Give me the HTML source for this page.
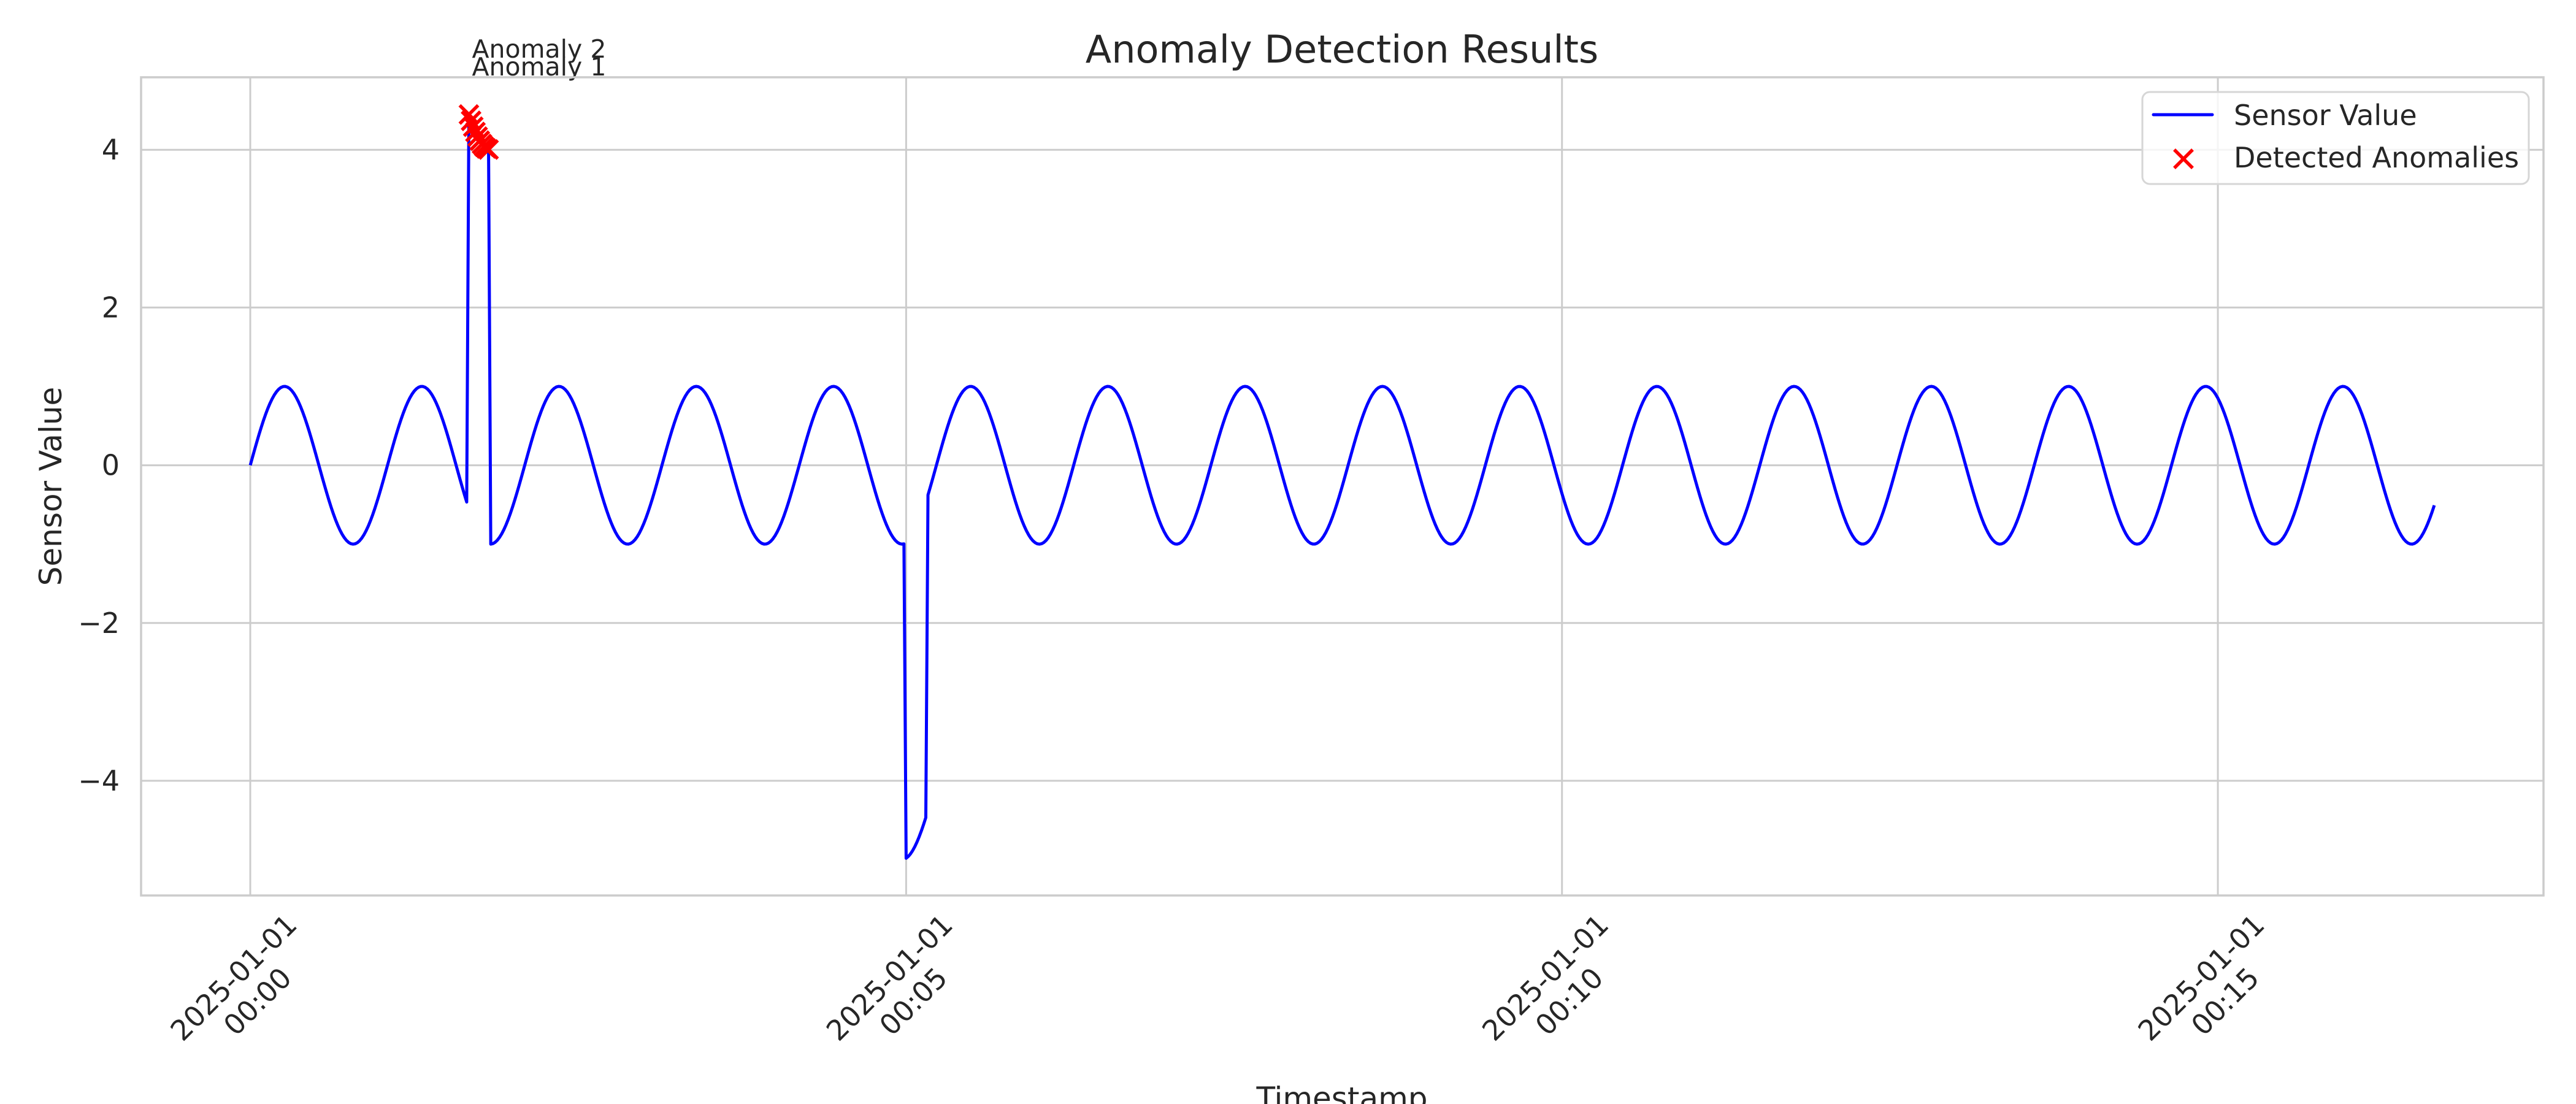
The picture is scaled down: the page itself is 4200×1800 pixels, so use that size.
<!DOCTYPE html>
<html><head><meta charset="utf-8"><style>
html,body{margin:0;padding:0;background:#fff;}
svg{display:block;font-family:"DejaVu Sans","Liberation Sans",sans-serif;}
</style></head><body>
<svg id="chart" width="4200" height="1800" viewBox="0 0 4200 1800" xmlns="http://www.w3.org/2000/svg">
<rect width="4200" height="1800" fill="#fff"/>
<g id="grid"></g>
<g id="series"></g>
<rect x="230" y="126" width="3917" height="1334" fill="none" stroke="#cccccc" stroke-width="3.5"/>
<g id="ticks"></g>
<text x="2188" y="102" font-size="62" text-anchor="middle" fill="#262626">Anomaly Detection Results</text>
<text transform="translate(100,793) rotate(-90)" font-size="50" text-anchor="middle" fill="#262626">Sensor Value</text>
<text x="2188" y="1808" font-size="50" text-anchor="middle" fill="#262626">Timestamp</text>
<g>
<rect x="3493" y="150" width="630" height="150" rx="12" fill="#fff" fill-opacity="0.8" stroke="#d6d6d6" stroke-width="3"/>
<line x1="3511" y1="187" x2="3607" y2="187" stroke="#0000ff" stroke-width="5" stroke-linecap="round"/>
<text x="3642" y="204" font-size="46" fill="#262626">Sensor Value</text>
<path d="M3545,244 L3575,274 M3575,244 L3545,274" stroke="#ff0000" stroke-width="5.5"/>
<text x="3642" y="273" font-size="46" fill="#262626">Detected Anomalies</text>
</g>
</svg>
<script>
// ---- data ----
const nPoints = 1000;            // seconds of samples (1 s interval)
const waveAmplitude = [1];
const wavePeriodSec = [62.77];
const anomalyStart = [100, 300];
const anomalyEnd = [110, 310];
const anomalyOffset = [5, -4];
const detectedStart = [100];
const detectedEnd = [110];
const annotationLabels = ["Anomaly 1", "Anomaly 2"];
const yTicks = [-4, -2, 0, 2, 4];
const xTickSecs = [0, 300, 600, 900];
const xTickLabels = [["2025-01-01","00:00"],["2025-01-01","00:05"],["2025-01-01","00:10"],["2025-01-01","00:15"]];

const values = [];
for (let i = 0; i < nPoints; i++) values.push(waveAmplitude[0] * Math.sin(2 * Math.PI * i / wavePeriodSec[0]));
for (let k = 0; k < anomalyStart.length; k++)
  for (let i = anomalyStart[k]; i < anomalyEnd[k]; i++) values[i] += anomalyOffset[k];

// ---- axes ----
const L = 230, R = 4147, T = 126, B = 1460;
const xMin = -(nPoints - 1) * 0.05, xMax = (nPoints - 1) * 1.05;
const vMin = Math.min(...values), vMax = Math.max(...values), pad = (vMax - vMin) * 0.05;
const yMin = vMin - pad, yMax = vMax + pad;
const xs = t => L + (t - xMin) / (xMax - xMin) * (R - L);
const ys = v => B - (v - yMin) / (yMax - yMin) * (B - T);
const NS = "http://www.w3.org/2000/svg";
const mk = (tag, attrs, parent) => { const e = document.createElementNS(NS, tag); for (const k in attrs) e.setAttribute(k, attrs[k]); parent.appendChild(e); return e; };
const grid = document.getElementById('grid'), ticks = document.getElementById('ticks'), series = document.getElementById('series');

yTicks.forEach(v => {
  const g = mk('line', {x1: L, x2: R, y1: ys(v), y2: ys(v), stroke: '#cccccc', 'stroke-width': 3}, grid);
  
  
  const t = mk('text', {x: 195, y: ys(v) + 16, 'font-size': 46, 'text-anchor': 'end', fill: '#262626'}, ticks);
  t.textContent = (v < 0 ? '\u2212' : '') + Math.abs(v);
  
  
});
xTickSecs.forEach((s, i) => {
  const x = xs(s);
  const g = mk('line', {x1: x, x2: x, y1: T, y2: B, stroke: '#cccccc', 'stroke-width': 3}, grid);
  
  
  const t = mk('text', {transform: `translate(${x - 8},1613) rotate(-45)`, 'font-size': 46, 'text-anchor': 'middle', fill: '#262626'}, ticks);
  
  
  const a = mk('tspan', {x: 0, y: -11}, t); a.textContent = xTickLabels[i][0];
  const b = mk('tspan', {x: 0, y: 44}, t); b.textContent = xTickLabels[i][1];
});

let d = '';
values.forEach((v, i) => { d += (i ? 'L' : 'M') + xs(i).toFixed(2) + ',' + ys(v).toFixed(2); });
const line = mk('path', {d: d, fill: 'none', stroke: '#0000ff', 'stroke-width': 5, 'stroke-linejoin': 'round'}, series);



for (let k = 0; k < detectedStart.length; k++) {
  for (let i = detectedStart[k]; i < detectedEnd[k]; i++) {
    const cx = xs(i), cy = ys(values[i]), h = 15;
    const m = mk('path', {d: `M${cx-h},${cy-h}L${cx+h},${cy+h}M${cx+h},${cy-h}L${cx-h},${cy+h}`, stroke: '#ff0000', 'stroke-width': 5.5}, series);
    
    
  }
  annotationLabels.forEach((lab, j) => {
    const t = mk('text', {x: xs(detectedStart[k]) + 5, y: 123 - j * 29, 'font-size': 41, fill: '#262626'}, series);
    t.textContent = lab;
    
    
  });
}
</script>
</body></html>
